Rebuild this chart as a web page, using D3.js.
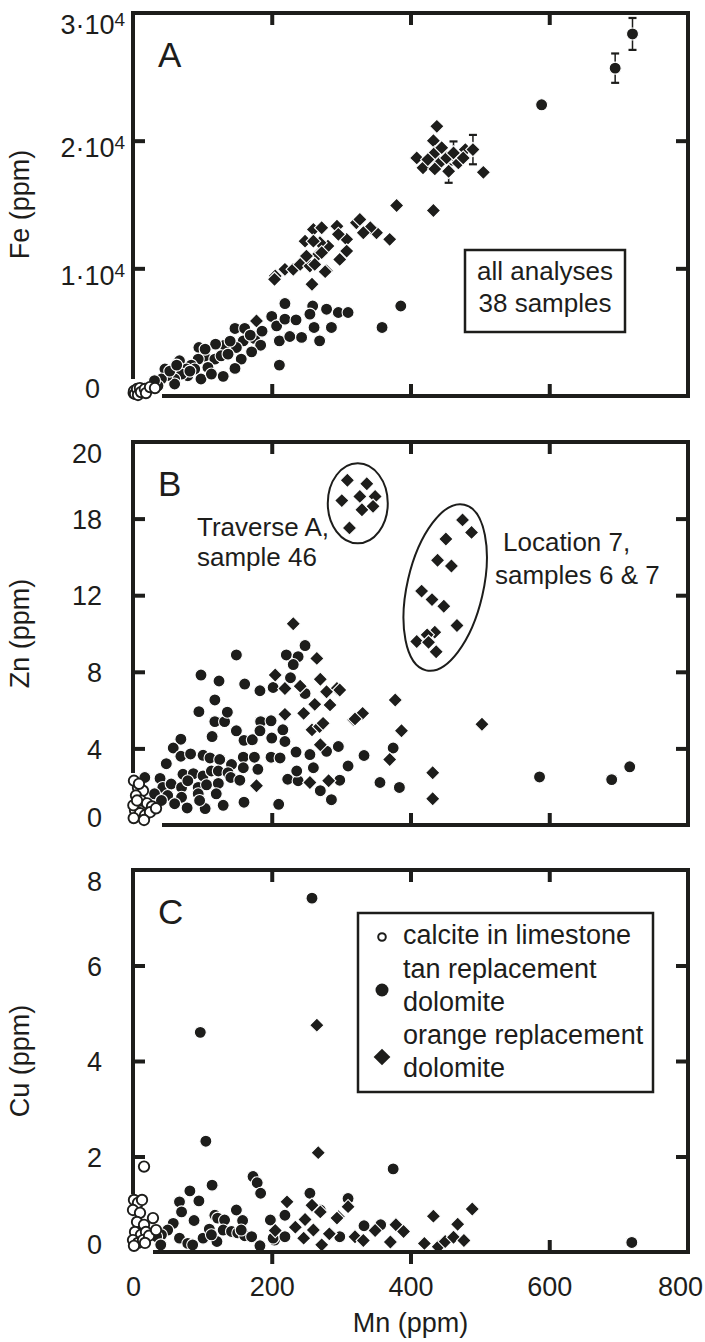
<!DOCTYPE html>
<html>
<head>
<meta charset="utf-8">
<script src="https://cdn.jsdelivr.net/npm/d3@7"></script>
<style>
  body { margin: 0; background: #fff; }
  svg { display: block; }
  text, tspan { font-family: "Liberation Sans", Arial, Helvetica, sans-serif; fill: #1d1d1b; }
</style>
</head>
<body>
<div id="vis"></div>
<script>
// tick values and labels
const xTicks = [0, 200, 400, 600, 800];
const feTicks = [0, 10000, 20000, 30000];
const znTicks = [0, 4, 8, 12, 18, 20];
const cuTicks = [0, 2, 4, 6, 8];

const panelLetters = ['A', 'B', 'C'];
const yTitles = ['Fe (ppm)', 'Zn (ppm)', 'Cu (ppm)'];
const xTitle = 'Mn (ppm)';
const boxLinesA = ['all analyses', '38 samples'];
const noteTraverse = ['Traverse A,', 'sample 46'];
const noteLocation = ['Location 7,', 'samples 6 & 7'];
const legendLabels = [['calcite in limestone'], ['tan replacement', 'dolomite'], ['orange replacement', 'dolomite']];

// panel A: [Mn, Fe, error]
const feCalcite = [[1,230],[1.4,390],[2.9,160],[5.8,550],[7.2,80],[10,620],[11.5,310],[17,550],[18.7,230],[24.5,700],[31.7,620]];
const feTan = [[219,7240],[259,7050],[147,5290],[161,5290],[200,6230],[207,5490],[219,6020],[235,5960],[255,6410],[261,5370],
  [211,4320],[226,4660],[243,4590],[269,4320],[159,4320],[175,4510],[184,3980],[171,3460],[156,2890],[147,2160],
  [130,1540],[211,2420],[149,3800],[132,3980],[119,4060],[95,3800],[103,3100],[118,2890],[127,3150],[137,3280],
  [94,2890],[84,2420],[67,2760],[77,2110],[89,2110],[98,1330],[79,1590],[70,1720],[60,1330],[60,940],
  [49,1590],[46,2110],[41,1330],[36,800],[31,1200],[108,2240],[113,1720],[279,6800],[296,6540],[310,6540],
  [286,5370],[53,1950],[63,2420],[104,3670],[140,4300],[169,4770],[186,5080],[82,1950],
  [386,7050],[359,5370],[589,22810],[695,25680,1150],[720,28360,1250]];
const feOrange = [[178,5880],[205,9400],[219,9920],[231,9920],[241,10310],[248,12130],[260,13050],[272,13180],[294,13300],
  [255,10180],[267,11090],[281,11740],[269.5,12010],[279,9790],[258,8750],[308,12270],[322,13570],[204,9140],
  [380,14920],[433,14530],[327,13830],[351,12790],[342,13180],[332,12790],[370,12270],[296,12660],[260,12130],
  [272,11230],[308,11350],[298,10700],[250,10960],[262,10310],[277,9740],
  [438,21120],[433,20000],[409,18650],[418,17870],[435,19040],[442,18260],[452,18650],[462,19040,900],[469,18260],
  [455,17600,900],[435,17790],[479,19300],[490,19300,1150],[505,17520],[476,18650],[425,18520],[445,19450]];

// panel B: [Mn, Zn]
const znCalcite = [[1.4,2.31],[7.2,1.95],[14.4,1.79],[4.3,1.54],[11.5,1.28],[20.2,1.13],[27.4,0.97],[2.9,0.77],[10.1,0.62],
  [17.3,0.51],[24.5,0.67],[33.2,0.87],[0.5,1.03],[5.8,1.28],[8.6,2.15],[1,0.36],[15.9,0.26]];
const znTan = [[149,8.88],[221,8.88],[238,8.79],[231,8.38],[98,7.83],[124,7.52],[161,7.36],[183,7.01],[202,7.18],[227,7.69],
  [118,6.53],[95,5.92],[118,5.40],[132,5.40],[136,5.89],[149,4.92],[114,4.62],[160,4.42],[172,4.45],[184,5.40],
  [199,5.44],[183,4.92],[216,4.97],[200,4.54],[219,4.36],[69,4.48],[58,4.02],[69,3.59],[83,3.71],[48,3.20],
  [101,3.64],[111,3.50],[125,3.42],[142,3.16],[159,3.54],[175,3.54],[199,3.54],[212,3.50],[235,3.81],[159,2.99],
  [180,2.91],[17,2.48],[39,2.43],[72,2.65],[87,2.68],[101,2.56],[113,2.82],[123,2.82],[137,2.73],[43,1.96],
  [55,2.14],[70,1.96],[79,2.31],[94,1.96],[106,2.10],[123,2.17],[141,2.48],[154,2.34],[223,2.39],[238,2.31],
  [31,1.63],[50,1.54],[70,1.45],[94,1.63],[120,1.63],[41,1.28],[60,1.11],[78,0.89],[104,0.86],[130,1.03],
  [160,1.19],[210,1.08],[96,1.28],[248,9.37],[248,6.87],[255,3.68],[279,3.85],[296,4.10],[333,3.63],[310,3.08],
  [260,2.99],[236,2.82],[270,1.79],[286,1.32],[298,2.34],[356,2.22],[384,1.96],[375,4.02],[586,2.51],[690,2.37],[716,3.04]];
const znOrange = [[309,19.0],[337,18.91],[301,18.47],[327,18.58],[349,18.58],[330,18.23],[346,18.32],[312,17.27],
  [475,17.90],[488,16.92],[451,16.40],[439,14.74],[459,14.29],[416,12.32],[431,11.77],[448,11.42],[467,10.42],
  [435,10.07],[424,9.93],[409,9.58],[426,9.54],[437,9.05],
  [231,10.51],[205,7.83],[219,7.13],[241,7.25],[265,8.70],[270,7.61],[294,7.13],[262,6.30],[284,6.27],[219,5.78],
  [258,4.97],[270,4.19],[318,5.49],[178,2.05],[255,2.22],[282,2.31],[246,5.83],[269,5.14],[274,5.31],[331,5.83],
  [378,6.53],[387,4.92],[370,3.42],[298,7.05],[320,5.54],[503,5.26],[432,2.73],[432,1.37],[279,6.96]];

// panel C: [Mn, Cu]
const cuCalcite = [[1.4,1.09],[7.2,1.03],[13,1.09],[0,0.88],[10.1,0.82],[5.8,0.63],[15.9,0.57],[28.8,0.71],[2.9,0.42],
  [11.5,0.36],[18.7,0.42],[0,0.25],[7.2,0.19],[14.4,0.25],[23.1,0.34],[1.4,0.13],[33.2,0.46],[17.3,0.19],[15.9,1.79]];
const cuTan = [[258,7.41],[97,4.60],[105,2.32],[375,1.74],[719,0.20],
  [114,1.40],[82,1.28],[95,1.07],[67,1.05],[70,0.84],[58,0.60],[88,0.66],[50,0.46],[41,0.36],[34,0.32],
  [40,0.15],[67,0.29],[79,0.18],[86,0.15],[101,0.29],[110,0.48],[118,0.77],[122,0.71],[132,0.67],[149,0.88],
  [158,0.66],[121,0.22],[113,0.36],[130,0.46],[142,0.43],[151,0.40],[161,0.34],[171,0.32],[183,0.13],[173,1.58],
  [179,1.45],[184,1.23],[198,0.67],[219,0.77],[255,1.23],[204,0.25],[156,0.46],[298,0.32],[202,0.29],[219,0.32],
  [310,1.12],[270,0.88],[333,0.55],[357,0.57]];
const cuOrange = [[265,4.75],[267,2.08],[222,1.05],[205,0.45],[234,0.52],[248,0.68],[258,0.98],[270,0.84],[260,0.46],
  [272,0.15],[284,0.39],[296,0.74],[310,0.95],[320,0.32],[246,0.29],[294,0.71],[283,0.38],[332,0.24],[349,0.45],
  [379,0.57],[390,0.43],[371,0.21],[433,0.75],[420,0.18],[440,0.11],[450,0.22],[462,0.31],[468,0.58],[477,0.24],[489,0.90]];

// setting up the frame
const FRAME_WIDTH = 705;
const FRAME_HEIGHT = 1342;
const INK = '#1d1d1b';
const X_LEFT = 133;
const X_RIGHT = 688;
const TICK = 12;

const SVG = d3.select('#vis')
  .append('svg')
    .attr('width', FRAME_WIDTH)
    .attr('height', FRAME_HEIGHT);

const X_SCALE = d3.scaleLinear().domain([0, 800]).range([X_LEFT, X_RIGHT]);

// zn axis has equally spaced ticks with uneven steps, so use a polylinear scale
const evenRange = (ticks, bottom, top) => ticks.map((d, i) => bottom - i * (bottom - top) / (ticks.length - 1));

const PANELS = [
  {y: d3.scaleLinear().domain([0, 30000]).range([396, 13]), ticks: feTicks, top: 13, bottom: 396,
   leftStop: 377, bottomStart: 164, calcite: feCalcite, tan: feTan, orange: feOrange},
  {y: d3.scaleLinear().domain(znTicks).range(evenRange(znTicks, 825, 442)), ticks: znTicks, top: 442, bottom: 825,
   leftStop: 771, bottomStart: 164, calcite: znCalcite, tan: znTan, orange: znOrange},
  {y: d3.scaleLinear().domain([0, 8]).range([1252, 870]), ticks: cuTicks, top: 870, bottom: 1252,
   leftStop: 1192, bottomStart: 155, calcite: cuCalcite, tan: cuTan, orange: cuOrange}
];

const diamond = size => d3.symbol().type(d3.symbolSquare).size(size)();

function drawAxes(p, i) {
  const last = p.ticks[p.ticks.length - 1];
  const inner = p.ticks.slice(1, -1);

  // left axis with labels
  const left = SVG.append('g')
    .attr('transform', 'translate(' + X_LEFT + ',0)')
    .attr('color', INK)
    .call(d3.axisLeft(p.y).tickValues(p.ticks).tickSize(-TICK)
      .tickPadding(i === 0 ? 8 : 31)
      .tickFormat(d => (i === 0 && d > 0) ? (d / 10000) + '\u00b710' : d));
  left.select('.domain').remove();
  left.selectAll('.tick line').attr('stroke-width', 4)
    .filter(d => d === p.ticks[0] || d === last).remove();
  left.selectAll('.tick text')
    .attr('font-size', 27)
    .attr('dy', d => d === last ? '0.75em' : (d === 0 ? '0.05em' : (i === 0 ? '0.6em' : '0.36em')));
  if (i === 0) {
    left.selectAll('.tick text').filter(d => d === 0).attr('x', -33);
    left.selectAll('.tick text').filter(d => d > 0)
      .append('tspan').attr('dy', '-0.42em').attr('font-size', 19).attr('fill', INK).text('4');
  }

  // right ticks
  const right = SVG.append('g')
    .attr('transform', 'translate(' + X_RIGHT + ',0)')
    .attr('color', INK)
    .call(d3.axisRight(p.y).tickValues(inner).tickSize(-TICK).tickFormat(''));
  right.select('.domain').remove();
  right.selectAll('.tick line').attr('stroke-width', 4);

  // top ticks
  const topAx = SVG.append('g')
    .attr('transform', 'translate(0,' + p.top + ')')
    .attr('color', INK)
    .call(d3.axisTop(X_SCALE).tickValues(xTicks.slice(1, -1)).tickSize(-TICK).tickFormat(''));
  topAx.select('.domain').remove();
  topAx.selectAll('.tick line').attr('stroke-width', 4);

  // bottom axis
  const bottom = SVG.append('g')
    .attr('transform', 'translate(0,' + p.bottom + ')')
    .attr('color', INK)
    .call(d3.axisBottom(X_SCALE).tickValues(xTicks).tickSize(-TICK).tickPadding(25)
      .tickFormat(i === 2 ? (d => d) : ''));
  bottom.select('.domain').remove();
  bottom.selectAll('.tick line').attr('stroke-width', 4)
    .filter(d => d === 0 || d === 800).remove();
  bottom.selectAll('.tick text').attr('font-size', 27);
  bottom.selectAll('.tick text').filter(d => d === 800).attr('x', -8);
  if (i === 2) {
    // the two left ticks of panel C point outward
    bottom.selectAll('.tick line').filter(d => d === 200 || d === 400).attr('y2', TICK);
  }

  // frame spines, left and bottom stop short of the origin
  const spines = [
    [X_LEFT, p.top, X_LEFT, p.leftStop],
    [X_LEFT, p.top, X_RIGHT, p.top],
    [X_RIGHT, p.top, X_RIGHT, p.bottom],
    [p.bottomStart, p.bottom, X_RIGHT, p.bottom]
  ];
  SVG.append('g').selectAll('line')
    .data(spines)
    .enter()
    .append('line')
      .attr('x1', d => d[0]).attr('y1', d => d[1])
      .attr('x2', d => d[2]).attr('y2', d => d[3])
      .attr('stroke', INK)
      .attr('stroke-width', 4)
      .attr('stroke-linecap', 'square');

  // y title
  SVG.append('text')
    .attr('transform', 'translate(29,' + ((p.top + p.bottom) / 2) + ') rotate(-90)')
    .attr('text-anchor', 'middle')
    .attr('font-size', 27)
    .text(yTitles[i]);

  // panel letter
  SVG.append('text')
    .attr('x', 158)
    .attr('y', p.top + 54)
    .attr('font-size', 35)
    .text(panelLetters[i]);
}

function drawPoints(p) {
  const g = SVG.append('g');

  // error bars
  const errs = p.tan.concat(p.orange).filter(d => d[2]);
  errs.forEach(d => {
    const x = X_SCALE(d[0]);
    const y1 = p.y(d[1] - d[2]);
    const y2 = p.y(d[1] + d[2]);
    g.append('line').attr('x1', x).attr('x2', x).attr('y1', y1).attr('y2', y2)
      .attr('stroke', INK).attr('stroke-width', 1.5);
    [y1, y2].forEach(y => {
      g.append('line').attr('x1', x - 4).attr('x2', x + 4).attr('y1', y).attr('y2', y)
        .attr('stroke', INK).attr('stroke-width', 2.2);
    });
  });

  // tan replacement dolomite
  g.selectAll('circle.tan')
    .data(p.tan)
    .enter()
    .append('circle')
      .attr('class', 'tan')
      .attr('cx', d => X_SCALE(d[0]))
      .attr('cy', d => p.y(d[1]))
      .attr('r', 6)
      .attr('fill', INK)
      .attr('stroke', '#fff')
      .attr('stroke-width', 1.1);

  // orange replacement dolomite
  g.selectAll('path.orange')
    .data(p.orange)
    .enter()
    .append('path')
      .attr('class', 'orange')
      .attr('d', diamond(104))
      .attr('transform', d => 'translate(' + X_SCALE(d[0]) + ',' + p.y(d[1]) + ') rotate(45)')
      .attr('fill', INK)
      .attr('stroke', '#fff')
      .attr('stroke-width', 1.1);

  // calcite in limestone
  g.selectAll('circle.calcite')
    .data(p.calcite)
    .enter()
    .append('circle')
      .attr('class', 'calcite')
      .attr('cx', d => X_SCALE(d[0]))
      .attr('cy', d => p.y(d[1]))
      .attr('r', 5.2)
      .attr('fill', '#fff')
      .attr('stroke', INK)
      .attr('stroke-width', 1.9);
}

PANELS.forEach((p, i) => {
  drawPoints(p);
  drawAxes(p, i);
});

// x title
SVG.append('text')
  .attr('x', (X_LEFT + X_RIGHT) / 2)
  .attr('y', 1332)
  .attr('text-anchor', 'middle')
  .attr('font-size', 27)
  .text(xTitle);

// panel A box
SVG.append('rect')
  .attr('x', 465).attr('y', 250).attr('width', 160).attr('height', 82)
  .attr('fill', '#fff').attr('stroke', INK).attr('stroke-width', 2.5);
SVG.selectAll('text.boxA')
  .data(boxLinesA)
  .enter()
  .append('text')
    .attr('class', 'boxA')
    .attr('x', 545)
    .attr('y', (d, i) => 280 + i * 32)
    .attr('text-anchor', 'middle')
    .attr('font-size', 26)
    .text(d => d);

// panel B notes and ellipses
const ZN = PANELS[1].y;
SVG.append('ellipse')
  .attr('cx', X_SCALE(324)).attr('cy', ZN(18.4))
  .attr('rx', 30).attr('ry', 40)
  .attr('fill', 'none').attr('stroke', INK).attr('stroke-width', 2);
SVG.append('ellipse')
  .attr('transform', 'translate(' + X_SCALE(450) + ',' + ZN(12.6) + ') rotate(13)')
  .attr('rx', 38).attr('ry', 85)
  .attr('fill', 'none').attr('stroke', INK).attr('stroke-width', 2);
SVG.selectAll('text.trav')
  .data(noteTraverse)
  .enter()
  .append('text')
    .attr('class', 'trav')
    .attr('x', 197)
    .attr('y', (d, i) => 536 + i * 30)
    .attr('font-size', 26)
    .text(d => d);
SVG.selectAll('text.loc')
  .data(noteLocation)
  .enter()
  .append('text')
    .attr('class', 'loc')
    .attr('x', (d, i) => i === 0 ? 503 : 495)
    .attr('y', (d, i) => 551 + i * 33)
    .attr('font-size', 26)
    .text(d => d);

// panel C legend
SVG.append('rect')
  .attr('x', 358).attr('y', 913).attr('width', 295).attr('height', 179)
  .attr('fill', '#fff').attr('stroke', INK).attr('stroke-width', 2.5);
const LEG_BASE = [944, 978, 1044];
legendLabels.forEach((lines, k) => {
  lines.forEach((t, j) => {
    SVG.append('text')
      .attr('x', 403)
      .attr('y', LEG_BASE[k] + j * 33)
      .attr('font-size', 27)
      .text(t);
  });
});
SVG.append('circle').attr('cx', 382).attr('cy', 937).attr('r', 3.8)
  .attr('fill', '#fff').attr('stroke', INK).attr('stroke-width', 2);
SVG.append('circle').attr('cx', 382).attr('cy', 990).attr('r', 6.5).attr('fill', INK);
SVG.append('path').attr('d', diamond(140))
  .attr('transform', 'translate(382,1057) rotate(45)').attr('fill', INK);
</script>
</body>
</html>
